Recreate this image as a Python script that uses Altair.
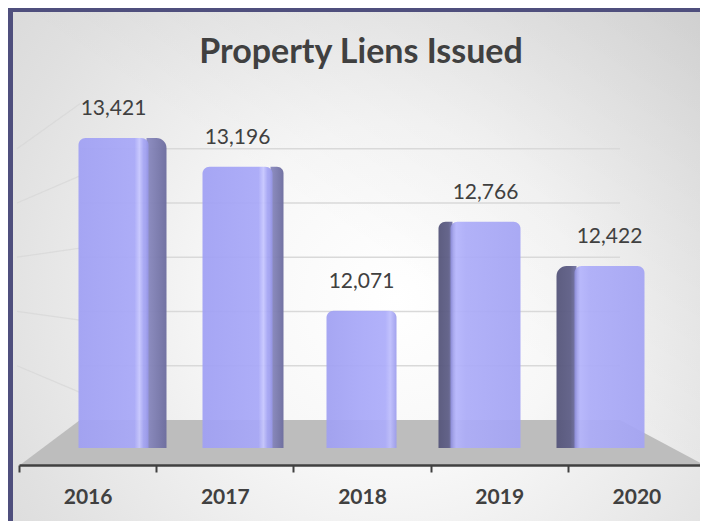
import altair as alt
import pandas as pd

# ---- data ----
years = ["2016", "2017", "2018", "2019", "2020"]
liens = [13421, 13196, 12071, 12766, 12422]
grid_values = [11500, 12000, 12500, 13000, 13500]
title_text = "Property Liens Issued"

BASE = 11000  # value at the floor of the 3-D plot

df = pd.DataFrame({"year": years, "liens": liens})
grid_df = pd.DataFrame({"v": grid_values})
one = pd.DataFrame({"k": [0]})

# ---- layout / style ----
W, H = 680, 375
PAD = {"left": 12, "top": 82, "right": 0, "bottom": 56}
FONT = "Lato"
TXT = "#404040"
FRONT_W = 70

bar_y = alt.Scale(domain=[10867, 13796], nice=False, zero=False)
grid_y = alt.Scale(domain=[10585, 14041], nice=False, zero=False)
bar_x = alt.Scale(domain=years, range=[31.5, 651.5], paddingInner=0, paddingOuter=0)
axis_x = alt.Scale(domain=years, range=[-1, 685], paddingInner=0, paddingOuter=0)

# floor trapezoid (pixel layout of the 3-D floor)
floor_layout = pd.DataFrame({"fx": [0, 60, 600, 684], "fy": [375, 330, 330, 375],
                             "fb": [375, 375, 375, 375]})


def lin(stops, x1=0, y1=0, x2=1, y2=0):
    return {"gradient": "linear", "x1": x1, "y1": y1, "x2": x2, "y2": y2,
            "stops": [{"offset": o, "color": c} for o, c in stops]}


bg_grad = {"gradient": "radial", "x1": 0.56, "y1": 0.55, "r1": 0,
           "x2": 0.56, "y2": 0.55, "r2": 0.85,
           "stops": [{"offset": 0, "color": "#ffffff"},
                     {"offset": 0.3, "color": "#f7f7f7"},
                     {"offset": 0.7, "color": "#e0e0e0"},
                     {"offset": 1, "color": "#d2d2d2"}]}
overlay_grad = lin([(0, "rgba(0,0,0,0.07)"), (1, "rgba(0,0,0,0)")], x1=1, y1=0, x2=0.55, y2=0.5)

full = dict(x=alt.value(-12), x2=alt.value(680), y=alt.value(-82), y2=alt.value(431))
bg = alt.Chart(one).mark_rect(fill=bg_grad).encode(**full)
overlay = alt.Chart(one).mark_rect(fill=overlay_grad).encode(**full)
top_border = alt.Chart(one).mark_rect(fill="#4f4f7d").encode(
    x=alt.value(-12), x2=alt.value(680), y=alt.value(-82), y2=alt.value(-78))
left_border = alt.Chart(one).mark_rect(fill="#4f4f7d").encode(
    x=alt.value(-12), x2=alt.value(-7), y=alt.value(-82), y2=alt.value(431))

title = alt.Chart(one).mark_text(text=title_text, font=FONT, fontSize=34, fontWeight="bold",
                                 color=TXT, align="center", baseline="alphabetic").encode(
    x=alt.value(W / 2 + 1), y=alt.value(-27))

back_grid = alt.Chart(grid_df).mark_rule(color="#d9d9d9", strokeWidth=1.5).encode(
    y=alt.Y("v:Q", scale=grid_y, axis=None), x=alt.value(60), x2=alt.value(600))
wall_grid = alt.Chart(grid_df).transform_calculate(
    vf="12244 + (datum.v - 12244) * 1.33").mark_rule(color="#d4d4d4", strokeWidth=1.2,
                                                     opacity=0.6).encode(
    y=alt.Y("v:Q", scale=grid_y, axis=None), y2="vf:Q", x=alt.value(-3), x2=alt.value(60))

floor = alt.Chart(floor_layout).mark_area(color="#bdbdbd").encode(
    x=alt.X("fx:Q", scale=None, axis=None),
    y=alt.Y("fy:Q", scale=None, axis=None),
    y2="fb:Q")

side_cfg = {"2016": ("right", 20), "2017": ("right", 13), "2019": ("left", 14), "2020": ("left", 20)}
sides = []
for yr, (side, w) in side_cfg.items():
    off = FRONT_W / 2 + w / 2 - 2
    if side == "right":
        mk = dict(width=w, xOffset=off, cornerRadiusTopRight=w * 0.5,
                  fill=lin([(0, "#8a8ac0"), (1, "#6c6c9e")]))
    else:
        mk = dict(width=w, xOffset=-off, cornerRadiusTopLeft=w * 0.5,
                  fill=lin([(0, "#55557a"), (0.7, "#5e5e86"), (1, "#7474aa")]))
    sides.append(
        alt.Chart(df).transform_filter(alt.datum.year == yr).mark_bar(opacity=0.95, **mk).encode(
            x=alt.X("year:N", scale=bar_x, axis=None),
            y=alt.Y("liens:Q", scale=bar_y, axis=None),
            y2=alt.datum(BASE)))

front_styles = [
    (["2016", "2017"], lin([(0, "#a0a0f4"), (0.8, "#a8a8f8"), (0.87, "#c6c6ff"), (0.93, "#a4a4f4"), (1, "#9898e8")])),
    (["2018"], lin([(0, "#a0a0f2"), (0.5, "#a8a8f8"), (0.84, "#acacfa"), (0.91, "#bdbdfd"), (1, "#9c9cec")])),
    (["2019", "2020"], lin([(0, "#9090dc"), (0.08, "#b4b4fc"), (0.22, "#acacf8"), (1, "#a4a4f4")])),
]
fronts = []
for group, grad in front_styles:
    fronts.append(
        alt.Chart(df).transform_filter(alt.FieldOneOfPredicate(field="year", oneOf=group)).mark_bar(
            width=FRONT_W, fill=grad, opacity=0.93,
            cornerRadiusTopLeft=7, cornerRadiusTopRight=7).encode(
            x=alt.X("year:N", scale=bar_x, axis=None),
            y=alt.Y("liens:Q", scale=bar_y, axis=None),
            y2=alt.datum(BASE)))

labels = alt.Chart(df).mark_text(font=FONT, fontSize=21, color=TXT, dy=-23,
                                 baseline="alphabetic", align="center").encode(
    x=alt.X("year:N", scale=bar_x, axis=None),
    y=alt.Y("liens:Q", scale=bar_y, axis=None),
    text=alt.Text("liens:Q", format=",d"))

axis_layer = alt.Chart(df).mark_point(opacity=0).encode(
    x=alt.X("year:N", scale=axis_x, axis=alt.Axis(
        title=None, orient="bottom", domainColor=TXT, domainWidth=2.5,
        tickColor=TXT, tickWidth=2, tickSize=7, tickBand="extent",
        labelFont=FONT, labelFontSize=21, labelFontWeight="bold", labelColor=TXT,
        labelPadding=14, labelAngle=0, grid=False, zindex=2)))

chart = alt.layer(
    bg, overlay, top_border, left_border, title, back_grid, wall_grid, floor,
    *sides, *fronts, labels, axis_layer
).resolve_scale(x="independent", y="independent").properties(
    width=W, height=H, padding=PAD, autosize="none",
    background="white",
).configure_view(stroke=None)

chart.save("out.html", embed_options={"renderer": "svg", "actions": False})
